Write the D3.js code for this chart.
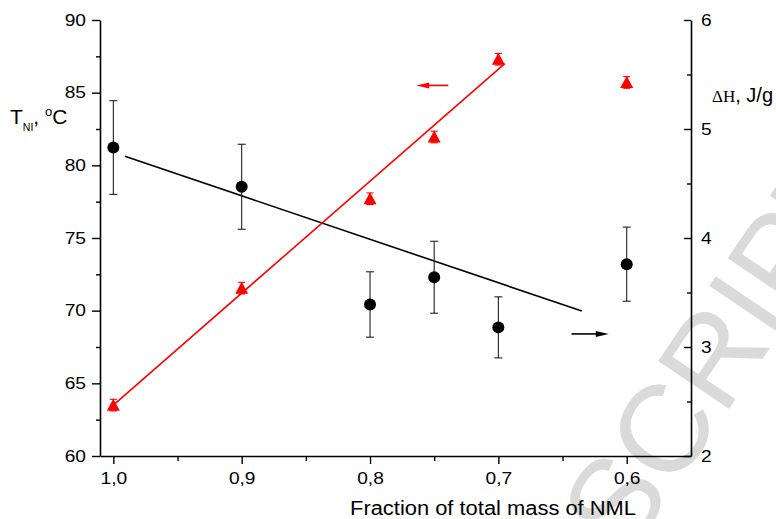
<!DOCTYPE html>
<html>
<head>
<meta charset="utf-8">
<script src="https://cdn.jsdelivr.net/npm/d3@7"></script>
<style>
  body { margin: 0; background: #fff; }
  svg text { font-family: "Liberation Sans", Arial, sans-serif; }
</style>
</head>
<body>
<svg id="chart" width="776" height="519"></svg>
<script>
// values
var frac = [1.0, 0.9, 0.8, 0.75, 0.7, 0.6];
var tni = [63.5, 71.55, 77.7, 81.95, 87.3, 85.7];     // T_NI, °C (left axis, red)
var tniErr = [0.4, 0.4, 0.4, 0.4, 0.4, 0.4];
var dH = [4.83, 4.47, 3.39, 3.64, 3.18, 3.76];         // ΔH, J/g (right axis, black)
var dHErr = [0.43, 0.39, 0.30, 0.33, 0.28, 0.34];
var tniFit = [[1.0, 63.5], [0.695, 87.0]];
var dHFit = [[0.991, 4.75], [0.635, 3.33]];
var redArrow = [[0.739, 85.5], [0.764, 85.5]];
var blackArrow = [[0.643, 3.12], [0.614, 3.12]];
var xTicks = [1.0, 0.9, 0.8, 0.7, 0.6];
var xMinor = [0.95, 0.85, 0.75, 0.65];
var yLTicks = [60, 65, 70, 75, 80, 85, 90];
var yLMinor = [62.5, 67.5, 72.5, 77.5, 82.5, 87.5];
var yRTicks = [2, 3, 4, 5, 6];
var yRMinor = [2.5, 3.5, 4.5, 5.5];

var svg = d3.select("#chart");
var plotL = 100, plotR = 691, plotT = 20, plotB = 456;
var stretch = 1.16;

var x = d3.scaleLinear().domain([1.0104, 0.5499]).range([plotL, plotR]);
var yL = d3.scaleLinear().domain([60, 90]).range([plotB, plotT]);
var yR = d3.scaleLinear().domain([2, 6]).range([plotB, plotT]);

// watermark
svg.append("text")
    .attr("transform", "translate(627,560) rotate(-56)")
    .attr("font-size", 124)
    .attr("fill", "#dadada")
    .text("SCRIPT");

var comma = function(d) { return d3.format(".1f")(d).replace(".", ","); };

function styleAxis(g, size) {
    g.select(".domain").attr("stroke-width", 1.6);
    g.selectAll(".tick line").attr("stroke-width", 1.4);
    g.selectAll("text").attr("font-size", size).attr("fill", "#000");
}
function minorStyle(g) {
    g.select(".domain").remove();
    g.selectAll("line").attr("stroke-width", 1.4);
}

// bottom axis
var gx = svg.append("g").attr("transform", "translate(0," + plotB + ")")
    .call(d3.axisBottom(x).tickValues(xTicks).tickFormat(comma).tickSize(8).tickSizeOuter(0).tickPadding(8));
styleAxis(gx, 16.5);
svg.append("g").attr("transform", "translate(0," + plotB + ")")
    .call(d3.axisBottom(x).tickValues(xMinor).tickFormat("").tickSize(5).tickSizeOuter(0))
    .call(minorStyle);

// left axis
var gl = svg.append("g").attr("transform", "translate(" + plotL + ",0)")
    .call(d3.axisLeft(yL).tickValues(yLTicks).tickSize(8).tickSizeOuter(0).tickPadding(6));
styleAxis(gl, 16.5);
svg.append("g").attr("transform", "translate(" + plotL + ",0)")
    .call(d3.axisLeft(yL).tickValues(yLMinor).tickFormat("").tickSize(4).tickSizeOuter(0))
    .call(minorStyle);

// right axis, ticks pointing inward
var gr = svg.append("g").attr("transform", "translate(" + plotR + ",0)")
    .call(d3.axisRight(yR).tickValues(yRTicks).tickFormat(d3.format("d")).tickSize(-7).tickSizeOuter(0).tickPadding(10));
styleAxis(gr, 16.5);
svg.append("g").attr("transform", "translate(" + plotR + ",0)")
    .call(d3.axisRight(yR).tickValues(yRMinor).tickFormat("").tickSize(-4).tickSizeOuter(0))
    .call(minorStyle);

// widen tick labels a bit like the original output
svg.selectAll(".tick text").each(function() {
    var w = this.getComputedTextLength();
    d3.select(this).attr("textLength", w * stretch).attr("lengthAdjust", "spacingAndGlyphs");
});

// axis titles
svg.append("text")
    .attr("x", 493).attr("y", 515)
    .attr("text-anchor", "middle").attr("font-size", 19.5)
    .attr("textLength", 286).attr("lengthAdjust", "spacingAndGlyphs")
    .text("Fraction of total mass of NML");

var yt = svg.append("text").attr("x", 10).attr("y", 124).attr("font-size", 21);
yt.append("tspan").text("T");
yt.append("tspan").attr("font-size", 10.5).attr("dy", 7).text("NI");
yt.append("tspan").attr("dy", -7).text(", ");
yt.append("tspan").attr("font-size", 13).attr("dy", -8).text("o");
yt.append("tspan").attr("dy", 8).text("C");

var rt = svg.append("text").attr("x", 712).attr("y", 102).attr("font-size", 20);
rt.append("tspan").attr("font-family", "'Liberation Serif', 'Times New Roman', serif").attr("font-size", 17).text("ΔH");
rt.append("tspan").text(", J/g");

// fit lines
var lineL = d3.line().x(function(d) { return x(d[0]); }).y(function(d) { return yL(d[1]); });
var lineR = d3.line().x(function(d) { return x(d[0]); }).y(function(d) { return yR(d[1]); });
svg.append("path").attr("d", lineR(dHFit)).attr("stroke", "#000").attr("stroke-width", 1.6).attr("fill", "none");
svg.append("path").attr("d", lineL(tniFit)).attr("stroke", "#ff0000").attr("stroke-width", 1.6).attr("fill", "none");

// error bars
function errBars(vals, errs, y, color, cap) {
    var g = svg.append("g").attr("stroke", color).attr("stroke-width", 1.1);
    frac.forEach(function(f, i) {
        var cx = x(f), y1 = y(vals[i] + errs[i]), y2 = y(vals[i] - errs[i]);
        g.append("line").attr("x1", cx).attr("x2", cx).attr("y1", y1).attr("y2", y2);
        g.append("line").attr("x1", cx - cap).attr("x2", cx + cap).attr("y1", y1).attr("y2", y1);
        g.append("line").attr("x1", cx - cap).attr("x2", cx + cap).attr("y1", y2).attr("y2", y2);
    });
}
errBars(dH, dHErr, yR, "#222", 4);
errBars(tni, tniErr, yL, "#ff0000", 3.5);

// markers
svg.append("g").selectAll("circle").data(frac).join("circle")
    .attr("cx", function(d) { return x(d); })
    .attr("cy", function(d, i) { return yR(dH[i]); })
    .attr("r", 6).attr("fill", "#000");

svg.append("g").selectAll("path").data(frac).join("path")
    .attr("transform", function(d, i) { return "translate(" + x(d) + "," + yL(tni[i]) + ")"; })
    .attr("d", "M0,-6.5L6.5,5.5L-6.5,5.5Z")
    .attr("fill", "#ff0000");

// arrows
function arrow(pts, y, color) {
    var x1 = x(pts[0][0]), x2 = x(pts[1][0]), yy = y(pts[0][1]);
    var dir = x2 > x1 ? 1 : -1;
    svg.append("line").attr("x1", x1).attr("x2", x2 - dir * 8).attr("y1", yy).attr("y2", yy)
        .attr("stroke", color).attr("stroke-width", 1.6);
    svg.append("path")
        .attr("d", "M" + x2 + "," + yy + "L" + (x2 - dir * 13) + "," + (yy - 3) + "L" + (x2 - dir * 13) + "," + (yy + 3) + "Z")
        .attr("fill", color);
}
arrow(redArrow, yL, "#ff0000");
arrow(blackArrow, yR, "#000");
</script>
</body>
</html>
